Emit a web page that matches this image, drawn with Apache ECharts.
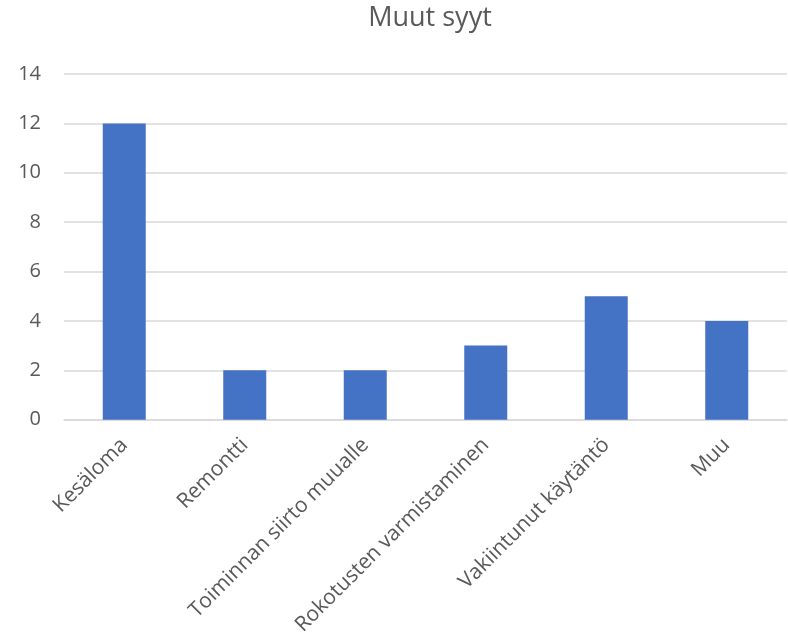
<!DOCTYPE html>
<html>
<head>
<meta charset="utf-8">
<script src="https://cdn.jsdelivr.net/npm/echarts@6/dist/echarts.min.js"></script>
<style>html,body{margin:0;padding:0;background:#fff}#c{width:788px;height:638px}</style>
</head>
<body>
<div id="c"></div>
<script>
const categories = ["Kesäloma", "Remontti", "Toiminnan siirto muualle", "Rokotusten varmistaminen", "Vakiintunut käytäntö", "Muu"];
const values = [12, 2, 2, 3, 5, 4];
const yTicks = {min: 0, max: 14, interval: 2};
const titleText = "Muut syyt";

const chart = echarts.init(document.getElementById('c'), null, {renderer: 'canvas'});
const font = '"Open Sans", sans-serif';
chart.setOption({
  animation: false,
  backgroundColor: '#fff',
  title: {
    text: titleText, left: 425, top: 0, textAlign: 'center',
    textStyle: {fontFamily: font, fontSize: 27, fontWeight: 'normal', color: '#595959'}
  },
  grid: {left: 64, right: 1, top: 74, bottom: 218},
  xAxis: {
    type: 'category', data: categories,
    axisLine: {lineStyle: {color: '#d9d9d9', width: 1.5}},
    axisTick: {show: false},
    axisLabel: {rotate: 45, margin: 22, fontFamily: font, fontSize: 21, color: '#595959', interval: 0}
  },
  yAxis: {
    type: 'value', min: yTicks.min, max: yTicks.max, interval: yTicks.interval,
    axisLine: {show: false}, axisTick: {show: false},
    splitLine: {lineStyle: {color: '#d9d9d9', width: 1.5}},
    axisLabel: {margin: 23, fontFamily: font, fontSize: 20, color: '#595959'}
  },
  series: [{
    type: 'bar', data: values, barWidth: 43,
    itemStyle: {color: '#4472c4'}
  }]
});
</script>
</body>
</html>
